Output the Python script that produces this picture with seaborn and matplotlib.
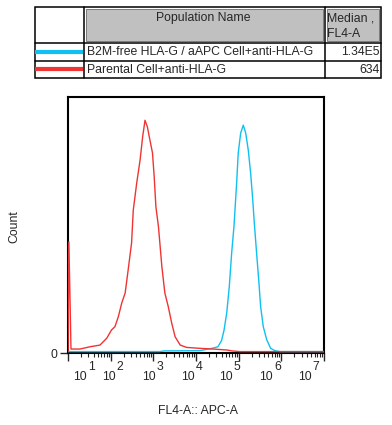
import numpy as np
import pandas as pd
import seaborn as sns
import matplotlib.pyplot as plt
from matplotlib.patches import Rectangle
from matplotlib.ticker import LogLocator

# histogram outlines, x as log10(FL4-A), y as relative count
red_logx = [1.0, 1.02, 1.045, 1.07, 1.28, 1.52, 1.75, 1.91, 2.02, 2.10, 2.18, 2.26, 2.34,
            2.41, 2.49, 2.53, 2.61, 2.69, 2.75, 2.805, 2.86, 2.92, 2.98, 3.02, 3.06,
            3.12, 3.16, 3.20, 3.27, 3.35, 3.43, 3.51, 3.63, 3.78, 4.09, 4.40, 4.72,
            4.84, 5.03, 5.3, 7.0]
red_count = [0.6, 47.7, 25.0, 1.7, 1.7, 2.7, 3.4, 6.4, 9.9, 11.3, 15.6, 21.5, 25.8,
             35.7, 47.3, 61.4, 73.0, 83.0, 93.0, 100.0, 97.2, 91.5, 86.0, 75.8, 62.9,
             54.3, 45.7, 37.1, 25.8, 19.9, 12.9, 7.0, 3.4, 2.4, 2.0, 1.7, 1.3,
             0.9, 0.6, 0.6, 0.6]

blue_logx = [1.0, 3.15, 3.25, 4.09, 4.40, 4.515, 4.60, 4.656, 4.72, 4.78, 4.836, 4.89,
             4.953, 4.99, 5.047, 5.108, 5.165, 5.225, 5.28, 5.33, 5.366, 5.42, 5.47,
             5.515, 5.577, 5.657, 5.75, 5.85, 5.97, 7.0]
blue_count = [0.6, 0.6, 0.9, 1.0, 2.1, 2.7, 5.4, 9.7, 17.2, 28.5, 43.0, 54.4,
              73.2, 86.0, 94.5, 97.9, 94.5, 87.2, 77.4, 65.8, 56.0, 43.0, 31.4,
              19.9, 11.3, 5.7, 2.0, 1.0, 0.6, 0.6]

populations = ["B2M-free HLA-G / aAPC Cell+anti-HLA-G", "Parental Cell+anti-HLA-G"]
medians = ["1.34E5", "634"]
colors = ["#10c0f0", "#f03434"]
decades = [1, 2, 3, 4, 5, 6, 7]

df = pd.concat([
    pd.DataFrame({"FL4-A": 10 ** np.array(blue_logx), "Count": blue_count, "pop": populations[0]}),
    pd.DataFrame({"FL4-A": 10 ** np.array(red_logx), "Count": red_count, "pop": populations[1]}),
])

sns.set_style("white")
plt.rcParams["font.family"] = ["Liberation Sans", "DejaVu Sans"]
fs = 8.8

fig = plt.figure(figsize=(3.92, 4.25), dpi=100)

# overlay in pixel coordinates for the table and tick labels
ov = fig.add_axes([0, 0, 1, 1])
ov.set_xlim(0, 392)
ov.set_ylim(425, 0)
ov.axis("off")

# header cells (grey, inset)
ov.add_patch(Rectangle((86, 9.3), 237.5, 31.2, facecolor="#c0c0c0", edgecolor="#7a7a7a", lw=0.7))
ov.add_patch(Rectangle((327.5, 9.3), 52, 31.2, facecolor="#c0c0c0", edgecolor="#7a7a7a", lw=0.7))
# table grid
ov.add_patch(Rectangle((35, 7.3), 346.5, 70.7, facecolor="none", edgecolor="black", lw=1.1))
for yy in [42.5, 61]:
    ov.plot([35, 381.5], [yy, yy], color="black", lw=1.1)
for xx in [84, 325.5]:
    ov.plot([xx, xx], [7.3, 78], color="black", lw=1.1)
ov.text(203, 18, "Population Name", ha="center", va="center", fontsize=fs)
ov.text(327, 18, "Median ,", ha="left", va="center", fontsize=fs)
ov.text(327, 34, "FL4-A", ha="left", va="center", fontsize=fs)
for i, (name, med, c) in enumerate(zip(populations, medians, colors)):
    yc = 51.8 + i * 17.5
    ov.plot([35.5, 83.5], [yc, yc], color=c, lw=3, solid_capstyle="butt")
    ov.text(87.5, yc + 0.5, name, ha="left", va="center", fontsize=fs)
    ov.text(379.5, yc + 0.5, med, ha="right", va="center", fontsize=fs)

# x tick labels as drawn by the cytometry software
label_left = [72.7, 101.7, 141.7, 181, 219, 259, 297.7]
for d, lx in zip(decades, label_left):
    ov.text(lx, 379.5, "10", ha="left", va="baseline", fontsize=fs)
    ov.text(lx + 15.0, 370.5, str(d), ha="left", va="baseline", fontsize=fs)

ax = fig.add_axes([68 / 392, 1 - 353 / 425, 256 / 392, 256 / 425])
sns.lineplot(data=df, x="FL4-A", y="Count", hue="pop", palette=colors,
             hue_order=populations, sort=True, estimator=None, lw=1.0,
             legend=False, ax=ax, zorder=3)
ax.set_xscale("log")
ax.set_xlim(10, 1e7)
ax.set_ylim(0, 110)
ax.set_xticks([10.0 ** d for d in decades])
ax.xaxis.set_minor_locator(LogLocator(base=10, subs=np.arange(2, 10), numticks=100))
ax.set_xticklabels([""] * len(decades))
ax.xaxis.set_minor_formatter(plt.NullFormatter())
ax.set_yticks([0])
ax.set_yticklabels(["0"], fontsize=fs)
ax.tick_params(axis="x", which="major", direction="out", length=6, width=1.0, bottom=True)
ax.tick_params(axis="x", which="minor", direction="out", length=3, width=0.8, bottom=True)
ax.tick_params(axis="y", which="major", direction="out", length=6, width=1.0, left=True, pad=2)
for s in ax.spines.values():
    s.set_visible(True)
    s.set_color("black")
    s.set_linewidth(1.5)
    s.set_zorder(2)
ax.set_xlabel("")
ax.set_ylabel("")
ov.text(198, 411, "FL4-A:: APC-A", ha="center", va="center", fontsize=fs)
ov.text(14, 227, "Count", ha="center", va="center", rotation=90, fontsize=fs)

fig.savefig("out.png", dpi=100)
plt.close(fig)
